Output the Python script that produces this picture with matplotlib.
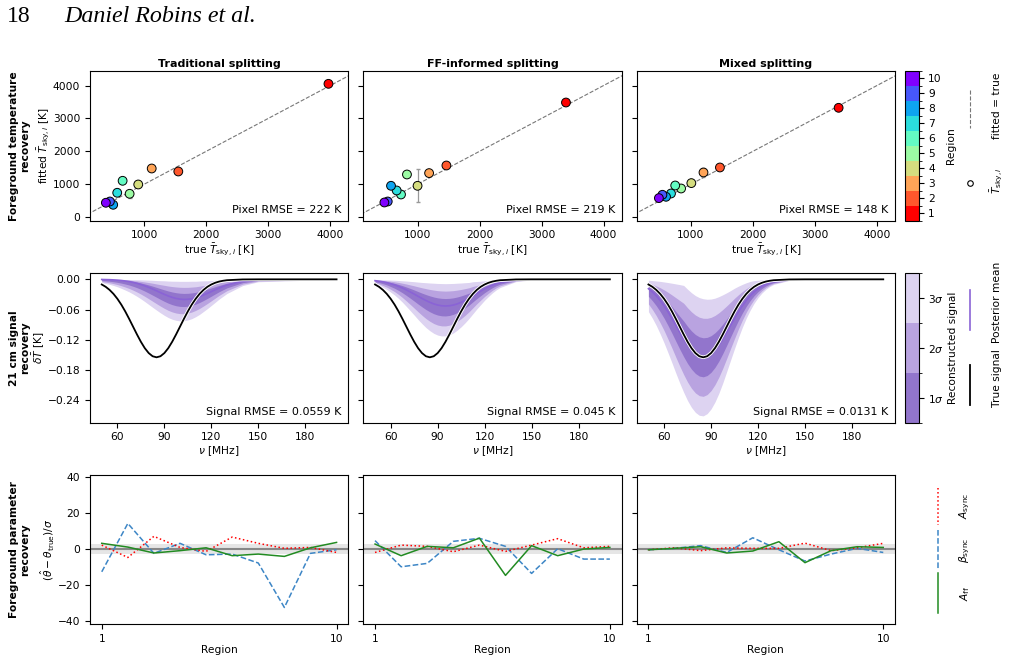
import numpy as np
import matplotlib
matplotlib.use("Agg")
import matplotlib.pyplot as plt
import matplotlib.patheffects as pe
from matplotlib.colors import ListedColormap, BoundaryNorm
from matplotlib.cm import ScalarMappable
from matplotlib.lines import Line2D

plt.rcParams['font.size'] = 7.7
plt.rcParams['axes.linewidth'] = 0.8

titles = ["Traditional splitting", "FF-informed splitting", "Mixed splitting"]
regions = np.arange(1, 11)

# --- top row: mean sky temperature per region (region 1 ... 10)
t_true = [[3970, 1549, 1120, 903, 764, 651, 564, 499, 446, 381],
          [3393, 1465, 1186, 1000, 829, 733, 663, 572, 519, 465],
          [3381, 1467, 1202, 1006, 841, 746, 678, 598, 540, 483]]
t_fit = [[4051, 1386, 1477, 991, 708, 1103, 739, 374, 474, 435],
         [3483, 1568, 1337, 951, 1295, 687, 809, 951, 474, 444],
         [3322, 1508, 1356, 1033, 869, 960, 717, 617, 678, 577]]
t_err = [[30, 40, 40, 30, 120, 40, 30, 30, 30, 30],
         [30, 40, 40, 496, 40, 30, 30, 30, 30, 30],
         [30, 40, 150, 40, 30, 30, 30, 30, 30, 30]]
pixel_rmse = ["222", "219", "148"]

# --- middle row: 21 cm signal, posterior mean and sigma below / above it
nu = [50, 52.5, 55, 57.5, 60, 62.5, 65, 67.5, 70, 72.5, 75, 77.5, 80, 82.5, 85,
      87.5, 90, 92.5, 95, 97.5, 100, 102.5, 105, 107.5, 110, 112.5, 115, 117.5,
      120, 122.5, 125, 127.5, 130, 140, 150, 200]
true_signal = [-0.0102, -0.0148, -0.0210, -0.0289, -0.0387, -0.0503, -0.0637, -0.0785,
               -0.0940, -0.1095, -0.1241, -0.1368, -0.1466, -0.1529, -0.1550, -0.1529,
               -0.1466, -0.1368, -0.1241, -0.1095, -0.0940, -0.0785, -0.0637, -0.0503,
               -0.0387, -0.0289, -0.0210, -0.0148, -0.0102, -0.0068, -0.0044, -0.0028,
               -0.0017, -0.0002, 0.0, 0.0]
post_mean = [
    [-0.0003, -0.0005, -0.0007, -0.0011, -0.0016, -0.0023, -0.0033, -0.0045, -0.0061,
     -0.0080, -0.0103, -0.0130, -0.0160, -0.0193, -0.0228, -0.0264, -0.0299, -0.0331,
     -0.0358, -0.0380, -0.0394, -0.0400, -0.0397, -0.0386, -0.0368, -0.0342, -0.0312,
     -0.0278, -0.0243, -0.0207, -0.0173, -0.0142, -0.0113, -0.0037, -0.0009, 0.0],
    [-0.0027, -0.0037, -0.0050, -0.0066, -0.0087, -0.0111, -0.0140, -0.0173, -0.0211,
     -0.0251, -0.0293, -0.0337, -0.0380, -0.0421, -0.0457, -0.0488, -0.0511, -0.0525,
     -0.0530, -0.0525, -0.0511, -0.0488, -0.0457, -0.0421, -0.0380, -0.0330, -0.0280,
     -0.0235, -0.0190, -0.0150, -0.0115, -0.0085, -0.0062, -0.0012, -0.0002, 0.0],
    [-0.0186, -0.0250, -0.0327, -0.0419, -0.0526, -0.0646, -0.0776, -0.0913, -0.1050,
     -0.1183, -0.1304, -0.1406, -0.1484, -0.1533, -0.1550, -0.1533, -0.1484, -0.1406,
     -0.1304, -0.1183, -0.1050, -0.0913, -0.0776, -0.0646, -0.0526, -0.0419, -0.0327,
     -0.0250, -0.0186, -0.0136, -0.0097, -0.0068, -0.0047, -0.0008, -0.0001, 0.0]]
sig_lo = [
    [0.0021, 0.0026, 0.0031, 0.0037, 0.0044, 0.0052, 0.0060, 0.0068, 0.0077, 0.0086,
     0.0095, 0.0104, 0.0113, 0.0121, 0.0128, 0.0134, 0.0139, 0.0143, 0.0145, 0.0145,
     0.0144, 0.0141, 0.0137, 0.0132, 0.0125, 0.0118, 0.0109, 0.0101, 0.0092, 0.0083,
     0.0073, 0.0065, 0.0056, 0.0029, 0.0013, 0.0],
    [0.0022, 0.0028, 0.0036, 0.0045, 0.0056, 0.0067, 0.0080, 0.0094, 0.0109, 0.0124,
     0.0139, 0.0154, 0.0167, 0.0179, 0.0188, 0.0195, 0.0199, 0.0200, 0.0198, 0.0193,
     0.0185, 0.0174, 0.0162, 0.0148, 0.0133, 0.0118, 0.0103, 0.0089, 0.0075, 0.0063,
     0.0051, 0.0041, 0.0033, 0.0011, 0.0003, 0.0],
    [0.0152, 0.0174, 0.0197, 0.0222, 0.0246, 0.0271, 0.0294, 0.0317, 0.0337, 0.0354,
     0.0369, 0.0380, 0.0387, 0.0390, 0.0388, 0.0379, 0.0364, 0.0344, 0.0320, 0.0292,
     0.0261, 0.0230, 0.0200, 0.0170, 0.0142, 0.0117, 0.0095, 0.0075, 0.0059, 0.0045,
     0.0034, 0.0025, 0.0018, 0.0004, 0.0001, 0.0]]
sig_hi = [
    [0.0001, 0.0002, 0.0002, 0.0003, 0.0005, 0.0007, 0.0010, 0.0014, 0.0018, 0.0024,
     0.0031, 0.0039, 0.0048, 0.0058, 0.0068, 0.0079, 0.0090, 0.0099, 0.0107, 0.0114,
     0.0118, 0.0120, 0.0119, 0.0116, 0.0110, 0.0103, 0.0094, 0.0083, 0.0073, 0.0062,
     0.0052, 0.0043, 0.0034, 0.0011, 0.0003, 0.0],
    [0.0008, 0.0010, 0.0014, 0.0018, 0.0024, 0.0031, 0.0039, 0.0048, 0.0059, 0.0070,
     0.0082, 0.0094, 0.0106, 0.0118, 0.0128, 0.0137, 0.0143, 0.0147, 0.0148, 0.0147,
     0.0143, 0.0137, 0.0128, 0.0118, 0.0106, 0.0094, 0.0079, 0.0066, 0.0053, 0.0042,
     0.0032, 0.0024, 0.0017, 0.0003, 0.0001, 0.0],
    [0.0056, 0.0075, 0.0098, 0.0126, 0.0158, 0.0194, 0.0233, 0.0274, 0.0315, 0.0354,
     0.0369, 0.0380, 0.0387, 0.0390, 0.0388, 0.0379, 0.0364, 0.0344, 0.0320, 0.0292,
     0.0261, 0.0230, 0.0200, 0.0170, 0.0142, 0.0117, 0.0095, 0.0075, 0.0056, 0.0041,
     0.0029, 0.0020, 0.0014, 0.0002, 0.0, 0.0]]
signal_rmse = ["0.0559", "0.045", "0.0131"]
sigma_labels = [r"$1\sigma$", r"$2\sigma$", r"$3\sigma$"]
band_colors = ["#9275cc", "#b9a3e0", "#ddd3f1"]
mean_color = "#8a63d6"

# --- bottom row: normalised parameter offsets per region
a_sync = [[2.2, -4.7, 7.1, 0.9, -1.3, 6.7, 3.2, 0.4, 0.9, -1.9],
          [-1.9, 2.2, 1.5, -1.5, 2.2, -1.3, 2.2, 5.8, 0.7, 1.5],
          [-0.4, 0.7, -0.9, 0.7, 0.4, 0.4, 3.3, -0.9, 0.7, 3.2]]
beta_sync = [[-12.7, 14.3, -2.4, 3.2, -3.2, -2.8, -7.8, -32.6, -2.4, -0.4],
             [4.7, -9.9, -8.0, 4.3, 6.0, 1.5, -13.6, 0.2, -5.6, -5.6],
             [-0.4, 0.4, 1.9, -1.9, 6.3, -0.4, -6.7, -2.8, 0.4, -1.9]]
a_ff = [[3.2, 1.1, -2.2, -0.9, 0.7, -3.7, -2.8, -4.1, 0.7, 3.7],
        [2.8, -3.7, 1.5, 0.7, 6.1, -14.7, 1.9, -3.7, 0.0, 0.9],
        [-0.4, 0.4, 1.3, -2.2, -1.1, 4.1, -7.6, -0.9, 1.3, 0.9]]

W, H = 1009, 660
fig = plt.figure(figsize=(W / 100, H / 100), dpi=100)


def rect(x0, y0, x1, y1):
    return [x0 / W, 1 - y1 / H, (x1 - x0) / W, (y1 - y0) / H]


def fx(x):
    return x / W


def fy(y):
    return 1 - y / H


cols = [(90, 348.3), (363.3, 621.6), (636.7, 895)]
rows = [(70.7, 220.7), (273.3, 422.7), (474.7, 624.3)]

region_cmap = plt.get_cmap("rainbow_r", 10)
region_norm = BoundaryNorm(np.arange(0.5, 11), 10)

fig.text(fx(7), fy(22), "18", fontsize=17, family="Liberation Serif", va="baseline")
fig.text(fx(64), fy(22), "Daniel Robins et al.", fontsize=17.3, family="Liberation Serif",
         style="italic", va="baseline")

row_names = ["Foreground temperature\nrecovery", "21 cm signal\nrecovery",
             "Foreground parameter\nrecovery"]
for i, name in enumerate(row_names):
    fig.text(fx(19.5), fy((rows[i][0] + rows[i][1]) / 2), name, rotation=90, ha="center",
             va="center", fontweight="bold", fontsize=7.7, multialignment="center",
             linespacing=1.1)

# top row
for j in range(3):
    ax = fig.add_axes(rect(cols[j][0], rows[0][0], cols[j][1], rows[0][1]))
    ax.plot([0, 5000], [0, 5000], ls="--", color="#777777", lw=0.8, zorder=1)
    ax.errorbar(t_true[j], t_fit[j], yerr=t_err[j], fmt="none", ecolor="#999999",
                elinewidth=0.9, capsize=1.5, zorder=2)
    ax.scatter(t_true[j], t_fit[j], c=regions, cmap=region_cmap, norm=region_norm, s=40,
               edgecolors="black", linewidths=0.7, zorder=3)
    ax.set_xlim(125, 4290)
    ax.set_ylim(-110, 4450)
    ax.set_xticks([1000, 2000, 3000, 4000])
    ax.set_yticks([0, 1000, 2000, 3000, 4000])
    ax.set_title(titles[j], fontweight="bold", fontsize=8, pad=3)
    ax.set_xlabel(r"true $\bar{T}_{{\rm sky},i}$ [K]", labelpad=1)
    if j == 0:
        ax.set_ylabel(r"fitted $\bar{T}_{{\rm sky},i}$ [K]", labelpad=1)
    else:
        ax.set_yticklabels([])
    ax.text(0.975, 0.04, "Pixel RMSE = %s K" % pixel_rmse[j], transform=ax.transAxes,
            ha="right", va="bottom", fontsize=8)

cax = fig.add_axes(rect(905, 71, 918.5, 220.5))
cb = fig.colorbar(ScalarMappable(norm=region_norm, cmap=region_cmap), cax=cax, ticks=regions)
cb.set_label("Region", labelpad=3)

# middle row
nu_a = np.array(nu)
for j in range(3):
    ax = fig.add_axes(rect(cols[j][0], rows[1][0], cols[j][1], rows[1][1]))
    m = np.array(post_mean[j])
    lo = np.array(sig_lo[j])
    hi = np.array(sig_hi[j])
    for k in (3, 2, 1):
        ax.fill_between(nu_a, m - k * lo, m + k * hi, color=band_colors[k - 1], lw=0, zorder=1)
    ax.plot(nu_a, m, color=mean_color, lw=1.2, zorder=2)
    ax.plot(nu_a, true_signal, color="black", lw=1.3, zorder=3,
            path_effects=[pe.Stroke(linewidth=2.6, foreground="white"), pe.Normal()])
    ax.set_xlim(42.5, 207.5)
    ax.set_ylim(-0.285, 0.012)
    ax.set_xticks([60, 90, 120, 150, 180])
    ax.set_yticks([0.0, -0.06, -0.12, -0.18, -0.24])
    ax.set_xlabel(r"$\nu$ [MHz]", labelpad=1)
    if j == 0:
        ax.set_yticklabels(["0.00", "\u22120.06", "\u22120.12", "\u22120.18", "\u22120.24"])
        ax.set_ylabel(r"$\delta\bar{T}$ [K]", labelpad=1)
    else:
        ax.set_yticklabels([])
    ax.text(0.975, 0.04, "Signal RMSE = %s K" % signal_rmse[j], transform=ax.transAxes,
            ha="right", va="bottom", fontsize=8)

sig_cmap = ListedColormap(band_colors)
sig_norm = BoundaryNorm([0, 1, 2, 3], 3)
cax = fig.add_axes(rect(905, 273.3, 918.5, 422.7))
cb = fig.colorbar(ScalarMappable(norm=sig_norm, cmap=sig_cmap), cax=cax, ticks=[0.5, 1.5, 2.5])
cb.set_ticklabels(sigma_labels)
cb.set_label("Reconstructed signal", labelpad=3)

# bottom row
for j in range(3):
    ax = fig.add_axes(rect(cols[j][0], rows[2][0], cols[j][1], rows[2][1]))
    ax.axhspan(-3, 3, color="#e6e6e6", lw=0, zorder=0)
    ax.axhline(0, color="#888888", lw=1.5, zorder=1)
    ax.plot(regions, a_sync[j], color="red", ls=":", lw=1.1, zorder=3)
    ax.plot(regions, beta_sync[j], color="#3d86c6", ls="--", lw=1.1, zorder=2)
    ax.plot(regions, a_ff[j], color="forestgreen", ls="-", lw=1.1, zorder=4)
    ax.set_xlim(0.55, 10.45)
    ax.set_ylim(-42, 41.5)
    ax.set_xticks([1, 10])
    ax.set_yticks([-40, -20, 0, 20, 40])
    ax.set_xlabel("Region", labelpad=1)
    if j == 0:
        ax.set_yticklabels(["\u221240", "\u221220", "0", "20", "40"])
        ax.set_ylabel(r"$(\hat{\theta} - \theta_{\rm true})/\sigma$", labelpad=1)
    else:
        ax.set_yticklabels([])


# rotated legends on the right
def vline(x, y0, y1, **kw):
    fig.add_artist(Line2D([fx(x), fx(x)], [fy(y0), fy(y1)], transform=fig.transFigure, **kw))


def vtext(x, y, s):
    fig.text(fx(x), fy(y), s, rotation=90, ha="center", va="center", fontsize=7.7)


vline(970, 90, 128, color="#777777", ls="--", lw=0.8)
vtext(997, 106, "fitted = true")
fig.add_artist(Line2D([fx(970)], [fy(183)], transform=fig.transFigure, marker="o", ms=4,
                      mfc="white", mec="black", mew=0.8, ls="none"))
vtext(997, 180, r"$\bar{T}_{{\rm sky},i}$")

vline(970, 290, 330, color=mean_color, lw=1.2)
vtext(997, 302, "Posterior mean")
vline(970, 365, 405, color="black", lw=1.3)
vtext(997, 378, "True signal")

vline(938, 488, 525, color="red", ls=":", lw=1.1)
vtext(965, 506, r"$A_{\rm sync}$")
vline(938, 530, 570, color="#3d86c6", ls="--", lw=1.1)
vtext(965, 550, r"$\beta_{\rm sync}$")
vline(938, 573, 613, color="forestgreen", lw=1.1)
vtext(965, 593, r"$A_{\rm ff}$")

fig.savefig("out.png", dpi=100)
